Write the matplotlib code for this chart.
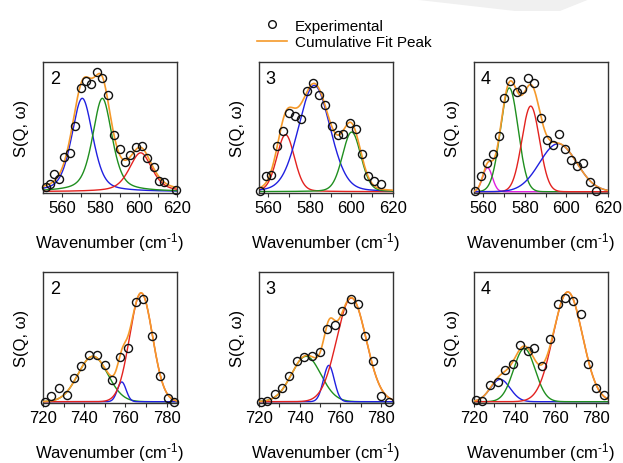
import numpy as np
import matplotlib
matplotlib.use('Agg')
import matplotlib.pyplot as plt
from matplotlib.lines import Line2D
from matplotlib.patches import Polygon

plt.rcParams['font.family'] = ['Liberation Sans', 'DejaVu Sans']
plt.rcParams['mathtext.default'] = 'regular'

# ---- experimental points (intensity in % of axis height)
x_a2 = [551.7, 553.4, 556.0, 558.6, 561.2, 564.1, 566.9, 569.7, 572.4, 575.3, 578.4, 581.0,
        584.1, 587.2, 590.0, 592.8, 595.7, 598.6, 601.7, 604.5, 607.8, 610.7, 613.4, 619.6]
y_a2 = [3.8, 5.6, 13.3, 9.7, 26.4, 29.5, 50.8, 80.3, 85.4, 83.3, 92.6, 87.9,
        74.4, 43.6, 33.1, 23.1, 28.2, 34.6, 35.1, 26.2, 19.2, 8.5, 7.7, 1.5]

x_a3 = [556.0, 558.7, 561.3, 564.0, 567.2, 569.9, 572.8, 575.7, 578.4, 581.6, 584.5,
        587.2, 590.4, 593.3, 596.1, 599.3, 602.1, 605.2, 608.1, 611.0, 614.2]
y_a3 = [0.8, 12.0, 12.8, 35.1, 46.9, 60.3, 58.2, 55.9, 77.4, 84.1, 74.4,
        66.7, 50.5, 43.6, 44.4, 53.1, 48.7, 29.0, 12.1, 8.5, 5.6]

x_a4 = [556.0, 558.9, 561.6, 564.5, 567.5, 570.1, 572.8, 576.0, 578.8, 581.6, 584.5,
        587.6, 590.8, 593.3, 596.2, 599.3, 602.1, 605.2, 608.1, 611.3, 614.2]
y_a4 = [0.5, 12.1, 21.8, 29.0, 42.8, 72.6, 85.4, 76.9, 79.5, 87.7, 84.1,
        56.9, 39.7, 35.9, 44.4, 33.3, 24.4, 19.7, 22.3, 7.2, 0.5]

x_b2 = [720.8, 724.0, 727.7, 731.6, 735.0, 738.5, 742.3, 746.1, 750.0, 753.5, 757.4,
        761.1, 765.2, 768.7, 772.7, 776.8, 780.5, 783.7]
y_b2 = [0.0, 4.4, 10.5, 4.9, 18.3, 27.2, 36.2, 36.2, 28.0, 16.5, 34.4,
        41.6, 77.1, 79.4, 50.4, 19.8, 2.8, 0.0]

x_b3 = [720.8, 724.1, 727.9, 731.3, 734.9, 738.5, 742.4, 746.2, 749.8, 753.4, 757.4,
        761.1, 765.2, 768.8, 772.3, 776.3, 780.3, 784.2]
y_b3 = [0.0, 0.5, 5.9, 10.8, 20.1, 31.1, 34.4, 35.2, 38.3, 56.3, 58.9,
        70.2, 79.4, 75.6, 50.6, 31.4, 4.4, 0.0]

x_b4 = [720.8, 724.1, 727.9, 731.6, 735.2, 739.0, 742.6, 746.4, 749.7, 753.5, 757.3,
        761.3, 765.0, 768.7, 772.5, 776.1, 779.9, 784.0]
y_b4 = [1.5, 0.3, 12.6, 15.2, 24.2, 28.8, 44.0, 38.8, 41.4, 27.8, 48.6,
        75.1, 79.9, 77.6, 67.9, 29.3, 10.8, 5.4]

# ---- fitted peak components: centre, height, FWHM, lorentzian fraction
cen_a2 = [570.5, 581.0, 601.0]
hgt_a2 = [72.0, 72.0, 30.0]
fwhm_a2 = [13.0, 12.0, 14.0]
eta_a2 = [0.4, 0.5, 0.5]

cen_a3 = [568.3, 582.1, 600.1]
hgt_a3 = [44.0, 82.0, 46.0]
fwhm_a3 = [10.0, 18.0, 10.5]
eta_a3 = [0.15, 0.15, 0.15]

cen_a4 = [562.0, 572.5, 582.8, 596.0]
hgt_a4 = [18.5, 80.0, 66.0, 37.0]
fwhm_a4 = [5.5, 10.0, 10.0, 21.0]
eta_a4 = [0.0, 0.0, 0.0, 0.0]

cen_b2 = [744.2, 758.2, 767.6]
hgt_b2 = [35.0, 15.2, 83.8]
fwhm_b2 = [17.0, 5.0, 13.0]
eta_b2 = [0.0, 0.0, 0.0]

cen_b3 = [743.2, 754.4, 765.5]
hgt_b3 = [35.0, 28.0, 80.0]
fwhm_b3 = [17.0, 6.3, 17.0]
eta_b3 = [0.0, 0.0, 0.0]

cen_b4 = [732.9, 744.8, 766.2]
hgt_b4 = [17.2, 41.0, 84.6]
fwhm_b4 = [11.5, 12.5, 17.0]
eta_b4 = [0.0, 0.0, 0.0]

BLUE, GREEN, RED, MAG = '#2020e0', '#1f8f1f', '#e3221f', '#e020e0'
ORANGE = '#f5992a'


def pvoigt(x, c, h, w, eta):
    u = (x - c) / w
    g = np.exp(-4 * np.log(2) * u ** 2)
    l = 1.0 / (1.0 + 4 * u ** 2)
    return h * (eta * l + (1 - eta) * g)


panels = [
    ('2', x_a2, y_a2, cen_a2, hgt_a2, fwhm_a2, eta_a2, [BLUE, GREEN, RED], (550, 620), 0),
    ('3', x_a3, y_a3, cen_a3, hgt_a3, fwhm_a3, eta_a3, [RED, BLUE, GREEN], (555.5, 620), 0),
    ('4', x_a4, y_a4, cen_a4, hgt_a4, fwhm_a4, eta_a4, [MAG, GREEN, RED, BLUE], (555.5, 620), 0),
    ('2', x_b2, y_b2, cen_b2, hgt_b2, fwhm_b2, eta_b2, [GREEN, BLUE, RED], (720, 785), 1),
    ('3', x_b3, y_b3, cen_b3, hgt_b3, fwhm_b3, eta_b3, [GREEN, BLUE, RED], (720, 786), 1),
    ('4', x_b4, y_b4, cen_b4, hgt_b4, fwhm_b4, eta_b4, [BLUE, GREEN, RED], (720, 786), 1),
]

W, H = 623, 464
fig = plt.figure(figsize=(W / 100, H / 100), dpi=100)

# faint background watermark
fig.patches.append(Polygon([(410 / W, 1), (590 / W, 1), (560 / W, 1 - 12 / H), (515 / W, 1 - 12 / H)],
                           closed=True, transform=fig.transFigure, facecolor='#f0f0f0',
                           edgecolor='none', zorder=0))

lefts = [43, 259, 474]
tops = [63, 273]
aw, ah = 134, 131

for i, (lab, xs, ys, cen, hgt, fw, eta, cols, xlim, row) in enumerate(panels):
    col = i % 3
    ax = fig.add_axes([lefts[col] / W, 1 - (tops[row] + ah) / H, aw / W, ah / H])
    xx = np.linspace(xlim[0], xlim[1], 600)
    total = np.zeros_like(xx)
    for c, h, w, e, colr in zip(cen, hgt, fw, eta, cols):
        yy = pvoigt(xx, c, h, w, e)
        total += yy
        ax.plot(xx, yy, color=colr, lw=1.0, zorder=2)
    ax.plot(xx, total, color=ORANGE, lw=1.2, zorder=3)
    ax.plot(xs, ys, 'o', mfc='none', mec='#111111', ms=5.8, mew=1.0, zorder=4, clip_on=False)
    ax.set_xlim(*xlim)
    ax.set_ylim(-1, 100)
    if row == 0:
        ax.set_xticks([560, 580, 600, 620])
        ax.set_xticks(np.arange(560, 621, 10), minor=True)
    else:
        ax.set_xticks([720, 740, 760, 780])
        ax.set_xticks(np.arange(720, 786, 10), minor=True)
    ax.set_yticks([])
    ax.tick_params(axis='x', which='both', direction='out', length=3, width=0.8,
                   color='#333333', labelsize=12, pad=2)
    for s in ax.spines.values():
        s.set_color('#333333')
        s.set_linewidth(1.0)
    ax.set_xlabel('Wavenumber (cm$^{\u2010}$$^{1}$)', fontsize=12, labelpad=11)
    ax.set_ylabel('S(Q, ω)', fontsize=12, labelpad=10)
    ax.text(0.05, 0.94, lab, transform=ax.transAxes, fontsize=13, va='top', ha='left')

handles = [Line2D([], [], marker='o', ls='none', mfc='none', mec='#111111', ms=5.5, mew=1.0),
           Line2D([], [], color=ORANGE, lw=1.2)]
fig.legend(handles, ['Experimental', 'Cumulative Fit Peak'], loc='upper left',
           bbox_to_anchor=(243 / W, 1 - 6 / H), frameon=False, fontsize=11,
           handlelength=2.0, handletextpad=0.5, labelspacing=0.15, borderpad=0.4)

fig.savefig('out.png', dpi=100)
